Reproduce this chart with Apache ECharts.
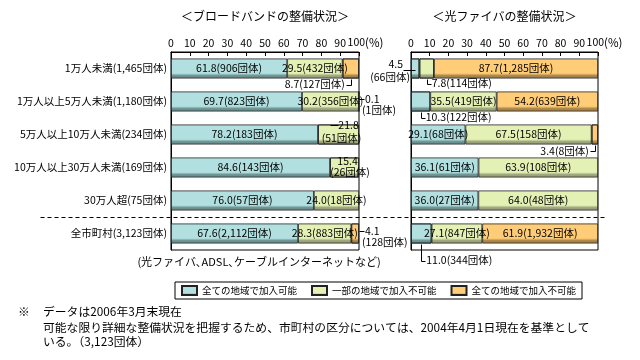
<!DOCTYPE html>
<html><head><meta charset="utf-8">
<script src="https://cdn.jsdelivr.net/npm/echarts@6/dist/echarts.min.js"></script>
<style>html,body{margin:0;padding:0;background:#fff}#c{width:640px;height:360px}</style>
</head><body><div id="c"></div>
<script>
// ---- data ----
const categories = ['1万人未満(1,465団体)', '1万人以上5万人未満(1,180団体)', '5万人以上10万人未満(234団体)', '10万人以上30万人未満(169団体)', '30万人超(75団体)', '全市町村(3,123団体)'];
const seriesNames = ['全ての地域で加入可能', '一部の地域で加入不可能', '全ての地域で加入不可能'];
const xTickValues = [0, 10, 20, 30, 40, 50, 60, 70, 80, 90, 100];
const panelTitles = ['＜ブロードバンドの整備状況＞', '＜光ファイバの整備状況＞'];
// broadband (%)
const bbAll = [61.8, 69.7, 78.2, 84.6, 76.0, 67.6];
const bbPart = [29.5, 30.2, 21.8, 15.4, 24.0, 28.3];
const bbNone = [8.7, 0.1, 0, 0, 0, 4.1];
// broadband (municipalities)
const bbAllN = [906, 823, 183, 143, 57, 2112];
const bbPartN = [432, 356, 51, 26, 18, 883];
const bbNoneN = [127, 1, 0, 0, 0, 128];
// optical fiber (%)
const fbAll = [4.5, 10.3, 29.1, 36.1, 36.0, 11.0];
const fbPart = [7.8, 35.5, 67.5, 63.9, 64.0, 27.1];
const fbNone = [87.7, 54.2, 3.4, 0, 0, 61.9];
// optical fiber (municipalities)
const fbAllN = [66, 122, 68, 61, 27, 344];
const fbPartN = [114, 419, 158, 108, 48, 847];
const fbNoneN = [1285, 639, 8, 0, 0, 1932];
const subNote = '(光ファイバ､ADSL､ケーブルインターネットなど)';
const footnotes = ['データは2006年3月末現在', '可能な限り詳細な整備状況を把握するため、市町村の区分については、2004年4月1日現在を基準として', 'いる。（3,123団体）'];

// ---- styling / layout ----
const FONT = '"Noto Sans CJK JP", "Noto Sans", sans-serif';
const vals = [[bbAll, bbPart, bbNone], [fbAll, fbPart, fbNone]];
const cnts = [[bbAllN, bbPartN, bbNoneN], [fbAllN, fbPartN, fbNoneN]];
const baseColors = ['#B2E0E0', '#E4F1B4', '#FFCC77'];
const shadeColors = ['#6A9090', '#9AA27A', '#A88448'];
const BW = 20;
const grids = [{left: 171, top: 52, width: 188, height: 198}, {left: 411, top: 52, width: 187, height: 198}];
const callouts = [
  {g: 0, s: 1, r: 2, type: 'stack', dx: [10, 3], dy: [-9.5, 3.5], lead: true},
  {g: 0, s: 1, r: 3, type: 'stack', dx: [3, 5.5], dy: [-6, 4.5]},
  {g: 0, s: 2, r: 0, type: 'belowLeft', drop: 6},
  {g: 0, s: 2, r: 1, type: 'right'},
  {g: 0, s: 2, r: 5, type: 'right'},
  {g: 1, s: 0, r: 0, type: 'left'},
  {g: 1, s: 0, r: 1, type: 'belowRight', drop: 6},
  {g: 1, s: 0, r: 5, type: 'belowRight', drop: 17},
  {g: 1, s: 1, r: 0, type: 'belowRight', drop: 5},
  {g: 1, s: 2, r: 2, type: 'belowLeft', drop: 6.5}
];
const isCallout = (g, s, r) => callouts.some(c => c.g === g && c.s === s && c.r === r);
const fmtN = n => n.toLocaleString('en-US');
const labelText = (v, n) => v.toFixed(1) + '(' + fmtN(n) + '団体)';

function grad(i) {
  return new echarts.graphic.LinearGradient(0, 0, 0, 1, [
    {offset: 0, color: baseColors[i]}, {offset: 0.74, color: baseColors[i]},
    {offset: 0.86, color: shadeColors[i]}, {offset: 1, color: shadeColors[i]}
  ]);
}

const series = [];
for (let g = 0; g < 2; g++) {
  for (let s = 0; s < 3; s++) {
    series.push({
      type: 'bar', name: seriesNames[s], xAxisIndex: g, yAxisIndex: g, stack: 'p' + g,
      barWidth: BW,
      itemStyle: {color: grad(s), borderColor: '#222', borderWidth: 0.8},
      label: {show: true, position: 'inside', color: '#000', fontSize: 10.5, fontFamily: FONT,
        formatter: p => labelText(vals[g][s][p.dataIndex], cnts[g][s][p.dataIndex])},
      emphasis: {disabled: true},
      data: vals[g][s].map((v, r) => ({
        value: v,
        label: {show: v > 0 && !isCallout(g, s, r)},
        itemStyle: v > 0 ? {} : {borderWidth: 0}
      }))
    });
  }
}

const option = {
  animation: false,
  textStyle: {fontFamily: FONT},
  title: panelTitles.map((t, g) => ({
    text: t, left: grids[g].left + grids[g].width / 2, top: 10, textAlign: 'center', padding: 0,
    textStyle: {fontSize: 12, fontWeight: 'normal', color: '#000', fontFamily: FONT}
  })),
  legend: {
    data: seriesNames, left: 175, top: 282, padding: [3, 6, 3, 6], itemGap: 14,
    itemWidth: 15, itemHeight: 9, icon: 'rect',
    borderColor: '#000', borderWidth: 1,
    textStyle: {fontSize: 9.5, color: '#000', fontFamily: FONT}
  },
  grid: grids.map(gr => Object.assign({show: true, borderColor: '#000', borderWidth: 1, backgroundColor: 'transparent'}, gr)),
  xAxis: grids.map((gr, g) => ({
    type: 'value', gridIndex: g, position: 'top', min: 0, max: 100, interval: 10,
    axisLine: {show: true, lineStyle: {color: '#000', width: 1}},
    axisTick: {show: true, inside: true, length: 4, lineStyle: {color: '#000'}},
    splitLine: {show: false},
    axisLabel: {color: '#000', fontSize: 10.5, margin: 4, fontFamily: FONT,
      formatter: v => v === xTickValues[xTickValues.length - 1] ? '{a|' + v + '}{b|(%)}' : String(v),
      rich: {a: {fontSize: 10.5, padding: [0, 0, 0, 13], fontFamily: FONT}, b: {fontSize: 11.5, fontFamily: FONT}}}
  })),
  yAxis: grids.map((gr, g) => ({
    type: 'category', gridIndex: g, data: categories, inverse: true,
    axisLine: {show: true, lineStyle: {color: '#000'}}, axisTick: {show: false},
    axisLabel: {show: g === 0, color: '#000', fontSize: 10.5, margin: 4, fontFamily: FONT}
  })),
  series
};

const chart = echarts.init(document.getElementById('c'));
chart.setOption(option);

// ---- annotations computed from the axes ----
const P = (g, x, r) => chart.convertToPixel({gridIndex: g}, [x, r]);
const els = [];
const F = '10.5px ' + FONT;
function txt(text, x, y, align, va, font, lh) {
  els.push({type: 'text', silent: true, z: 100, style: {text, x, y, font: font || F, fill: '#000',
    textAlign: align, textVerticalAlign: va, align, verticalAlign: va, lineHeight: lh || 11}});
}
function line(pts, dash) {
  els.push({type: 'polyline', silent: true, z: 100, shape: {points: pts.map(p => [Math.round(p[0]) + 0.5, Math.round(p[1]) + 0.5])},
    style: {stroke: '#000', lineWidth: 1, fill: null, lineDash: dash || null}});
}
callouts.forEach(c => {
  const v = vals[c.g][c.s][c.r], n = cnts[c.g][c.s][c.r];
  let cum = 0; for (let k = 0; k < c.s; k++) cum += vals[c.g][k][c.r];
  const [cx, cy] = P(c.g, cum + v / 2, c.r);
  const top = cy - BW / 2, bottom = cy + BW / 2;
  const gl = P(c.g, 0, c.r)[0], gright = P(c.g, 100, c.r)[0];
  const a = v.toFixed(1), b = '(' + fmtN(n) + '団体)';
  if (c.type === 'belowRight') {
    const y = bottom + c.drop;
    line([[cx, bottom], [cx, y], [cx + 4, y]]);
    txt(labelText(v, n), cx + 5, y, 'left', 'middle');
  } else if (c.type === 'belowLeft') {
    const y = bottom + c.drop;
    line([[cx, bottom], [cx, y], [cx - 5, y]]);
    txt(labelText(v, n), cx - 6, y, 'right', 'middle');
  } else if (c.type === 'right') {
    line([[gright, cy - 3], [gright + 5, cy - 3]]);
    txt(a, gright + 6, cy - 2.5, 'left', 'middle');
    txt(b, gright + 3, cy + 9, 'left', 'middle');
  } else if (c.type === 'left') {
    txt(a, gl - 8, cy - 4, 'right', 'middle');
    line([[gl - 8, cy + 1], [cx, cy + 1]]);
    txt(b, gl - 1, cy + 9, 'right', 'middle');
  } else if (c.type === 'stack') {
    txt(a, cx + c.dx[0], cy + c.dy[0], 'center', 'middle');
    txt(b, cx + c.dx[1], cy + c.dy[1], 'center', 'middle');
    if (c.lead) line([[cx + c.dx[0] - 19, cy + c.dy[0]], [cx + c.dx[0] - 11, cy + c.dy[0]]]);
  }
});
// dashed separator between the size classes and the total row
const yA = P(0, 0, categories.length - 2)[1], yB = P(0, 0, categories.length - 1)[1];
line([[40, (yA + yB) / 2], [605, (yA + yB) / 2]], [4, 3]);
// sub note under broadband panel
txt(subNote, 259, 262, 'center', 'middle', '11px ' + FONT);
// footnotes
const FN = '11.8px ' + FONT;
txt('※', 18, 312, 'left', 'middle', FN);
footnotes.forEach((t, i) => txt(t, 43, [312, 327.5, 341.5][i], 'left', 'middle', FN));

chart.setOption({graphic: {elements: els}});
</script>
</body></html>
